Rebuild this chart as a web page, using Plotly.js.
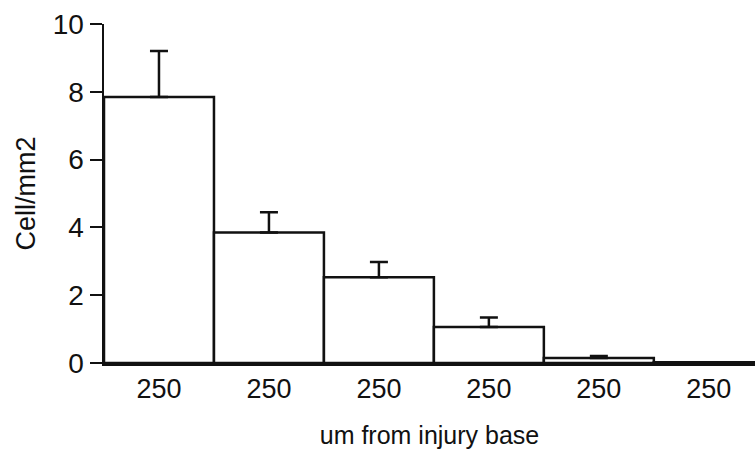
<!DOCTYPE html>
<html>
<head>
<script src="https://cdn.plot.ly/plotly-3.0.1.min.js"></script>
<style>body{margin:0;background:#fff}#chart{width:755px;height:459px}</style>
</head>
<body>
<div id="chart"></div>
<script>
var categories = ["c1", "c2", "c3", "c4", "c5", "c6"];
var tickLabels = ["250", "250", "250", "250", "250", "250"];
var values = [7.85, 3.85, 2.53, 1.06, 0.15, 0.02];
var errorsUpper = [1.35, 0.6, 0.45, 0.28, 0.06, 0];

var trace = {
  type: "bar",
  x: categories,
  y: values,
  marker: {color: "#ffffff", line: {color: "#111111", width: 2.5}},
  error_y: {type: "data", symmetric: false, array: errorsUpper,
            arrayminus: errorsUpper.map(function(){return 0;}),
            color: "#111111", thickness: 2.5, width: 9}
};

var fam = "Liberation Sans, Arial, sans-serif";
var layout = {
  width: 755, height: 459,
  margin: {l: 104, r: 0, t: 24, b: 96},
  paper_bgcolor: "#ffffff", plot_bgcolor: "#ffffff",
  bargap: 0,
  showlegend: false,
  font: {family: fam, color: "#111111", size: 26},
  xaxis: {
    type: "category",
    tickvals: categories, ticktext: tickLabels,
    range: [-0.5, 5.42],
    showline: true, linecolor: "#111111", linewidth: 2.5,
    ticks: "", showgrid: false, zeroline: false,
    tickfont: {size: 27, family: fam},
    title: {text: "um from injury base", font: {size: 25, family: fam}, standoff: 24}
  },
  yaxis: {
    range: [0, 10],
    tickvals: [0, 2, 4, 6, 8, 10],
    showline: true, linecolor: "#111111", linewidth: 2.5,
    ticks: "outside", ticklen: 12, tickwidth: 2, tickcolor: "#111111",
    ticklabelstandoff: 0,
    showgrid: false, zeroline: false,
    tickfont: {size: 28, family: fam},
    title: {text: "Cell/mm2", font: {size: 27, family: fam}, standoff: 10}
  }
};

Plotly.newPlot("chart", [trace], layout, {displayModeBar: false, staticPlot: true});
</script>
</body>
</html>
